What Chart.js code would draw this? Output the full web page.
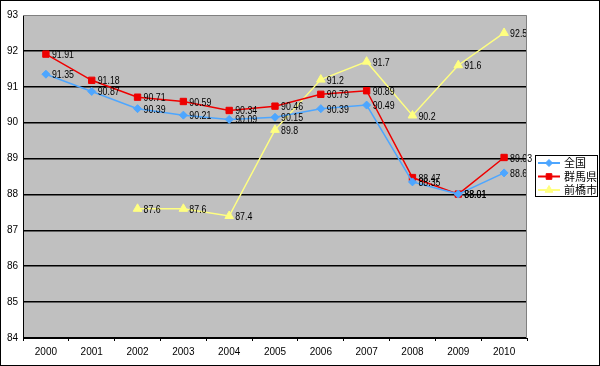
<!DOCTYPE html>
<html>
<head>
<meta charset="utf-8">
<script src="https://cdn.jsdelivr.net/npm/chart.js@4/dist/chart.umd.min.js"></script>
<style>
  body { margin: 0; background: #fff; }
  canvas { display: block; }
</style>
</head>
<body>
<canvas id="chart" width="600" height="366"></canvas>
<script>
// data
const years = ['2000', '2001', '2002', '2003', '2004', '2005', '2006', '2007', '2008', '2009', '2010']
const zenkoku = [91.35, 90.87, 90.39, 90.21, 90.09, 90.15, 90.39, 90.49, 88.35, 88.01, 88.6]
const gunma = [91.91, 91.18, 90.71, 90.59, 90.34, 90.46, 90.79, 90.89, 88.47, 88.01, 89.03]
const maebashi = [null, null, 87.6, 87.6, 87.4, 89.8, 91.2, 91.7, 90.2, 91.6, 92.5]
const seriesNames = ['全国', '群馬県', '前橋市']

const FONT = '"Liberation Sans", Arial, sans-serif'
const JP_FONT = '"Noto Sans CJK JP", sans-serif'

// gray plot background + gray top/right edge + outer frame
const frame = {
  id: 'frame',
  beforeDraw(chart) {
    const { ctx, chartArea: a } = chart
    ctx.save()
    ctx.fillStyle = '#c0c0c0'
    ctx.fillRect(a.left, a.top, a.right - a.left, a.bottom - a.top)
    ctx.restore()
  },
  afterDraw(chart) {
    const { ctx, chartArea: a } = chart
    ctx.save()
    ctx.strokeStyle = '#808080'
    ctx.lineWidth = 1
    ctx.beginPath()
    ctx.moveTo(a.left, a.top + 0.5)
    ctx.lineTo(a.right - 0.5, a.top + 0.5)
    ctx.lineTo(a.right - 0.5, a.bottom)
    ctx.stroke()
    ctx.strokeStyle = '#000'
    ctx.strokeRect(0.5, 0.5, 599, 365)
    ctx.restore()
  }
}

// value labels to the right of each point (squeezed a bit, the original font is narrow)
const pointLabels = {
  id: 'pointLabels',
  afterDatasetsDraw(chart) {
    const ctx = chart.ctx
    chart.data.datasets.forEach((ds, i) => {
      chart.getDatasetMeta(i).data.forEach((pt, j) => {
        const v = ds.data[j]
        if (v == null) return
        ctx.save()
        ctx.translate(pt.x + 6, pt.y + 1)
        ctx.scale(0.8, 1)
        ctx.font = '11px ' + FONT
        ctx.fillStyle = '#000'
        ctx.textBaseline = 'middle'
        ctx.textAlign = 'left'
        ctx.fillText(String(v), 0, 0)
        ctx.restore()
      })
    })
  }
}

// boxed legend on the right
const boxLegend = {
  id: 'boxLegend',
  afterDraw(chart) {
    const ctx = chart.ctx
    const x = 535, y = 155, w = 62, h = 41
    ctx.save()
    ctx.fillStyle = '#fff'
    ctx.fillRect(x, y, w, h)
    ctx.strokeStyle = '#000'
    ctx.lineWidth = 1
    ctx.strokeRect(x + 0.5, y + 0.5, w, h)
    chart.data.datasets.forEach((ds, i) => {
      const cy = y + 8 + i * 13.5
      ctx.strokeStyle = ds.borderColor
      ctx.lineWidth = 2
      ctx.beginPath()
      ctx.moveTo(x + 3, cy)
      ctx.lineTo(x + 25, cy)
      ctx.stroke()
      ctx.fillStyle = ds.pointBackgroundColor
      ctx.strokeStyle = ds.pointBorderColor
      ctx.lineWidth = 1
      Chart.helpers.drawPoint(ctx, { pointStyle: ds.pointStyle, radius: ds.pointRadius - 0.5, borderWidth: 1 }, x + 14, cy)
      ctx.fillStyle = '#000'
      ctx.font = '11px ' + JP_FONT
      ctx.textBaseline = 'middle'
      ctx.fillText(seriesNames[i], x + 29, cy)
    })
    ctx.restore()
  }
}

function lineSet(label, data, color, style, radius) {
  return {
    label,
    data,
    borderColor: color,
    backgroundColor: color,
    pointBackgroundColor: color,
    pointBorderColor: color,
    pointStyle: style,
    pointRadius: radius,
    pointBorderWidth: 1,
    borderWidth: 1.5,
    tension: 0
  }
}

new Chart(document.getElementById('chart'), {
  type: 'line',
  data: {
    labels: years,
    datasets: [
      lineSet(seriesNames[0], zenkoku, '#4da6ff', 'rectRot', 4),
      lineSet(seriesNames[1], gunma, '#ee0000', 'rect', 4.5),
      lineSet(seriesNames[2], maebashi, '#ffff80', 'triangle', 5)
    ]
  },
  options: {
    responsive: false,
    animation: false,
    layout: { padding: { top: 15, right: 73, bottom: 0, left: 0 } },
    plugins: {
      legend: { display: false },
      tooltip: { enabled: false }
    },
    scales: {
      x: {
        offset: true,
        afterFit(scale) { scale.height = 28 },
        border: { color: '#000', width: 1 },
        grid: { offset: true, drawOnChartArea: false, drawTicks: true, tickLength: 3, color: '#000' },
        ticks: { color: '#000', font: { size: 10, family: FONT }, padding: 5, maxRotation: 0 }
      },
      y: {
        min: 84,
        max: 93,
        afterFit(scale) { scale.width = 23 },
        border: { color: '#000', width: 1 },
        grid: {
          color: ctx => ctx.tick.value === 93 ? 'rgba(0,0,0,0)' : '#000',
          lineWidth: 1.5,
          drawTicks: false
        },
        ticks: { stepSize: 1, color: '#000', font: { size: 10, family: FONT }, padding: 5 }
      }
    }
  },
  plugins: [frame, pointLabels, boxLegend]
})
</script>
</body>
</html>
